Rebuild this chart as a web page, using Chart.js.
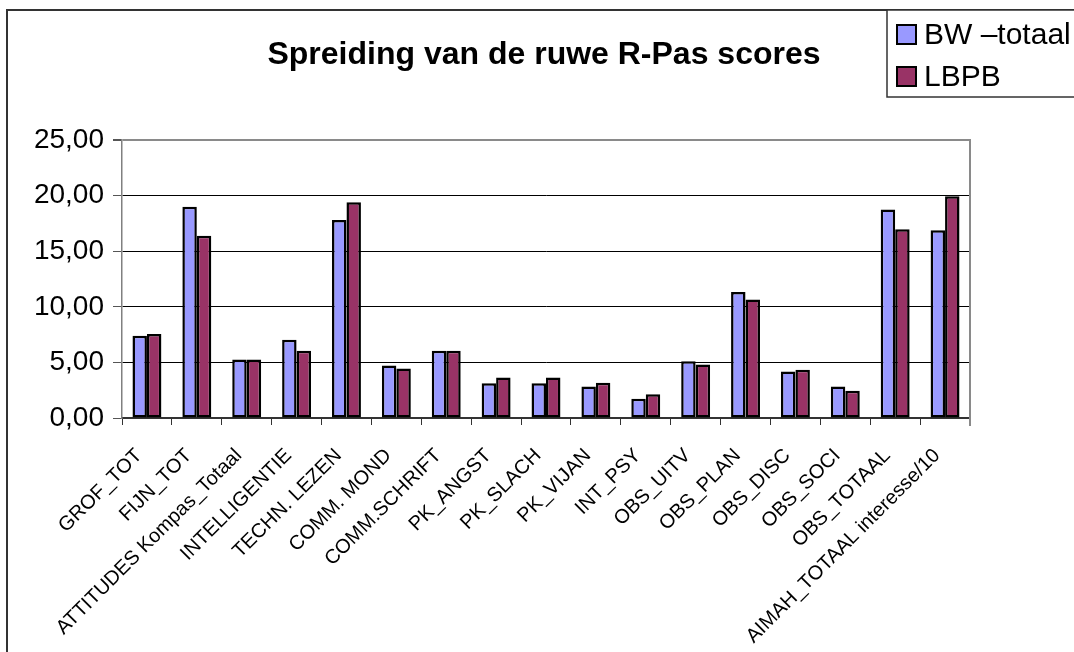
<!DOCTYPE html>
<html>
<head>
<meta charset="utf-8">
<script src="https://cdn.jsdelivr.net/npm/chart.js@4.4.1/dist/chart.umd.min.js"></script>
<style>
  html, body { margin: 0; padding: 0; background: #fff; }
  #wrap { width: 1074px; height: 652px; position: relative; }
</style>
</head>
<body>
<div id="wrap"><canvas id="c" width="1074" height="652"></canvas></div>
<script>
const chartTitle = 'Spreiding van de ruwe R-Pas scores';
const categories = ['GROF_TOT', 'FIJN_TOT', 'ATTITUDES Kompas_Totaal', 'INTELLIGENTIE', 'TECHN. LEZEN',
  'COMM. MOND', 'COMM.SCHRIFT', 'PK_ANGST', 'PK_SLACH', 'PK_VIJAN', 'INT_PSY', 'OBS_UITV',
  'OBS_PLAN', 'OBS_DISC', 'OBS_SOCI', 'OBS_TOTAAL', 'AIMAH_TOTAAL interesse/10'];
const seriesNames = ['BW \u2013totaal', 'LBPB'];
const bwTotaal = [7.40, 19.00, 5.26, 7.04, 17.80, 4.72, 6.05, 3.13, 3.13, 2.83, 1.74, 5.11, 11.34, 4.18, 2.83, 18.75, 16.88];
const lbpb     = [7.55, 16.40, 5.26, 6.05, 19.40, 4.45, 6.05, 3.64, 3.64, 3.16, 2.14, 4.81, 10.65, 4.33, 2.44, 16.97, 19.95];
const yTickLabels = ['0,00', '5,00', '10,00', '15,00', '20,00', '25,00'];

const FONT = "'Liberation Sans', Arial, sans-serif";

const decor = {
  id: 'decor',
  afterDraw(chart) {
    const ctx = chart.ctx;
    const a = chart.chartArea;
    ctx.save();
    // right border of plot area
    ctx.strokeStyle = '#8a8a8a';
    ctx.lineWidth = 2;
    ctx.beginPath();
    ctx.moveTo(a.right, a.top - 1);
    ctx.lineTo(a.right, a.bottom + 8);
    ctx.stroke();
    // outer frame
    ctx.strokeStyle = '#333';
    ctx.lineWidth = 2;
    ctx.strokeRect(7, 10, 1200, 800);
    // title
    ctx.fillStyle = '#000';
    ctx.font = 'bold 32px ' + FONT;
    ctx.textAlign = 'center';
    ctx.textBaseline = 'alphabetic';
    ctx.fillText(chartTitle, 544, 64);
    // legend
    ctx.fillStyle = '#fff';
    ctx.fillRect(887, 10, 200, 87);
    ctx.strokeStyle = '#333';
    ctx.lineWidth = 1.5;
    ctx.strokeRect(887, 10, 200, 87);
    ctx.font = '30px ' + FONT;
    ctx.textAlign = 'left';
    ctx.textBaseline = 'middle';
    chart.data.datasets.forEach((ds, i) => {
      const cy = 34 + i * 42;
      ctx.fillStyle = ds.backgroundColor;
      ctx.fillRect(897, cy - 9, 19, 19);
      ctx.strokeStyle = '#000';
      ctx.lineWidth = 2;
      ctx.strokeRect(897, cy - 9, 19, 19);
      ctx.fillStyle = '#000';
      ctx.fillText(ds.label, 924, cy + 2);
    });
    ctx.restore();
  }
};

new Chart(document.getElementById('c'), {
  type: 'bar',
  data: {
    labels: categories,
    datasets: [
      { label: seriesNames[0], data: bwTotaal, backgroundColor: '#9999FF', borderColor: '#000', borderWidth: 2.5, borderSkipped: false },
      { label: seriesNames[1], data: lbpb, backgroundColor: '#993366', borderColor: '#000', borderWidth: 2.5, borderSkipped: false }
    ]
  },
  options: {
    responsive: false,
    animation: false,
    devicePixelRatio: 1,
    layout: { padding: { left: 0, top: 140, right: 104, bottom: 0 } },
    datasets: { bar: { categoryPercentage: 0.58, barPercentage: 1.0 } },
    plugins: {
      legend: { display: false },
      title: { display: false },
      tooltip: { enabled: false }
    },
    scales: {
      x: {
        afterFit(scale) { scale.height = 234; },
        border: { color: '#333', width: 2 },
        grid: { offset: true, drawOnChartArea: false, drawTicks: true, tickLength: 7, color: '#333', lineWidth: 1 },
        ticks: { color: '#000', font: { family: FONT, size: 20 }, maxRotation: 45, minRotation: 45, autoSkip: false, padding: 19, labelOffset: -8 }
      },
      y: {
        min: 0, max: 25,
        afterFit(scale) { scale.width = 122; },
        border: { color: '#808080', width: 1.5 },
        grid: {
          color: (c) => c.tick && c.tick.value === 25 ? '#8a8a8a' : '#000',
          lineWidth: (c) => c.tick && c.tick.value === 25 ? 2 : 1,
          tickColor: '#555',
          tickLength: 9
        },
        ticks: {
          stepSize: 5,
          color: '#000',
          padding: 9,
          font: { family: FONT, size: 28 },
          callback: (v, i) => yTickLabels[i]
        }
      }
    }
  },
  plugins: [decor]
});
</script>
</body>
</html>
